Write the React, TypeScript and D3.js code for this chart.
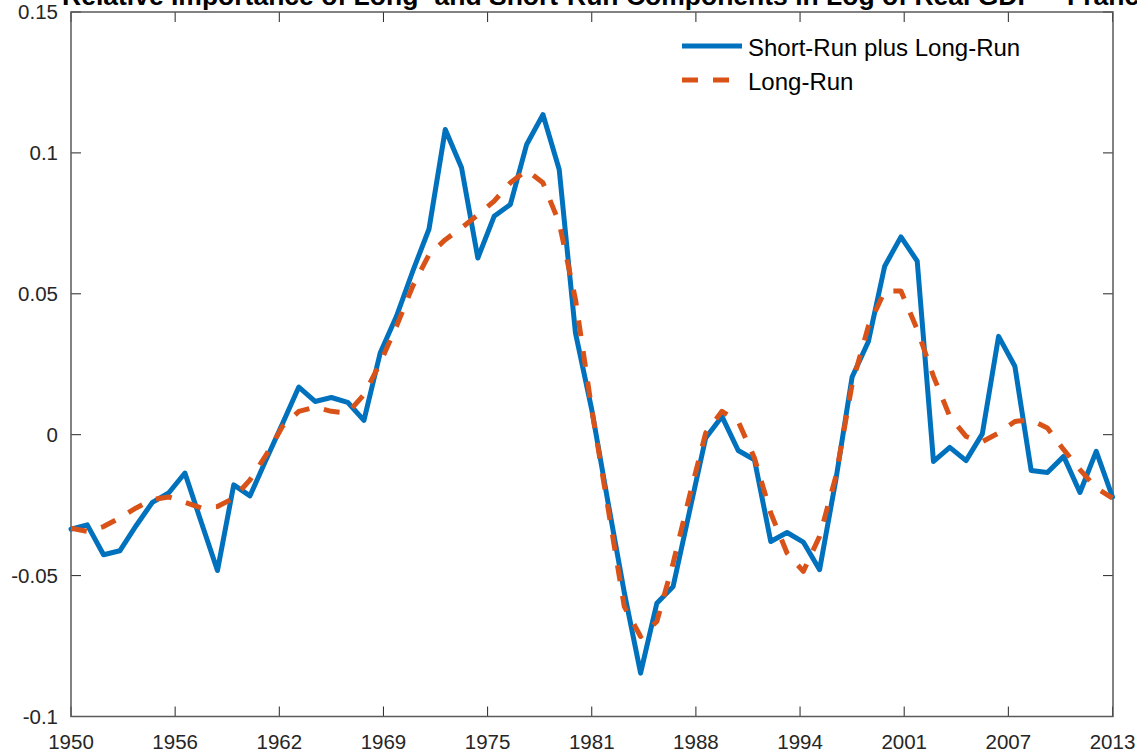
import React from "react";
import * as d3 from "d3";

const TITLE = "Relative Importance of Long- and Short-Run Components in Log of Real GDP -- France";

// 65 evenly spaced observations across the axis (index 0..64)
const shortPlusLong: number[] = [
  -0.0335, -0.032, -0.0426, -0.0412, -0.0323, -0.024, -0.0207, -0.0136, -0.031, -0.0482,
  -0.0178, -0.0217, -0.0087, 0.004, 0.0169, 0.0118, 0.0132, 0.0115, 0.0051, 0.029,
  0.042, 0.058, 0.073, 0.1083, 0.0947, 0.0627, 0.0775, 0.0817, 0.103, 0.1136,
  0.0941, 0.0361, 0.0089, -0.024, -0.056, -0.0846, -0.0598, -0.0539, -0.0274, -0.0012,
  0.0065, -0.0056, -0.0089, -0.0379, -0.0347, -0.0381, -0.0479, -0.016, 0.0205, 0.0331,
  0.0598, 0.0702, 0.0616, -0.0095, -0.0045, -0.0092, 0.0003, 0.0349, 0.0243, -0.0127,
  -0.0134, -0.0077, -0.0205, -0.0059, -0.0221,
];

const longRun: number[] = [
  -0.0332, -0.0343, -0.0326, -0.0295, -0.026, -0.023, -0.0221, -0.024, -0.026, -0.0255,
  -0.0225, -0.016, -0.0071, 0.003, 0.0083, 0.0098, 0.0083, 0.0077, 0.0142, 0.0255,
  0.0385, 0.0527, 0.0639, 0.0692, 0.0734, 0.078, 0.0829, 0.0894, 0.0939, 0.0894,
  0.0752, 0.048, 0.009, -0.026, -0.061, -0.0716, -0.0663, -0.0456, -0.022, 0.0006,
  0.0083, 0.0047, -0.0083, -0.0278, -0.042, -0.0485, -0.0361, -0.0148, 0.018, 0.0385,
  0.0509, 0.051, 0.0373, 0.0207, 0.0065, -0.0006, -0.0025, 0.0006, 0.0047, 0.0053,
  0.0024, -0.0053, -0.0124, -0.0189, -0.0225,
];

const xTickLabels = ["1950", "1956", "1962", "1969", "1975", "1981", "1988", "1994", "2001", "2007", "2013"];
const yTicks = [-0.1, -0.05, 0, 0.05, 0.1, 0.15];
const yTickLabels = ["-0.1", "-0.05", "0", "0.05", "0.1", "0.15"];
const legendLabels = ["Short-Run plus Long-Run", "Long-Run"];

const W = 1137;
const H = 754;
const L = 71;
const R = 1113;
const T = 12;
const B = 716.5;

const BLUE = "#0072BD";
const ORANGE = "#D95319";
const FONT = "'Liberation Sans', Arial, Helvetica, sans-serif";

export default function App() {
  const n = shortPlusLong.length;
  const x = d3.scaleLinear().domain([0, n - 1]).range([L, R - 0.5]);
  const y = d3.scaleLinear().domain([-0.1, 0.15]).range([B, T]);
  const xTickPos = xTickLabels.map((_, i) => ((n - 1) * i) / (xTickLabels.length - 1));

  const line = d3
    .line<number>()
    .x((_, i) => x(i))
    .y((d) => y(d));

  const tickLen = 10;
  const axisColor = "#5a5a5a";
  const tickColor = "#262626";

  return (
    <svg
      width={W}
      height={H}
      style={{ position: "absolute", left: 0, top: 0, background: "#fff" }}
      fontFamily={FONT}
    >
      <rect x={0} y={0} width={W} height={H} fill="#fff" />
      <text x={62} y={5} fontSize={26.5} fontWeight="bold" fill="#000">
        {TITLE}
      </text>

      {/* ticks */}
      {xTickPos.map((p, i) => (
        <g key={"xt" + i}>
          <line x1={x(p)} x2={x(p)} y1={B} y2={B - tickLen} stroke={tickColor} strokeWidth={1} />
          <line x1={x(p)} x2={x(p)} y1={T} y2={T + tickLen} stroke={tickColor} strokeWidth={1} />
          <text x={x(p)} y={749} fontSize={20.5} textAnchor="middle" fill="#262626">
            {xTickLabels[i]}
          </text>
        </g>
      ))}
      {yTicks.map((v, i) => (
        <g key={"yt" + i}>
          <line x1={L} x2={L + tickLen} y1={y(v)} y2={y(v)} stroke={tickColor} strokeWidth={1} />
          <line x1={R} x2={R - tickLen} y1={y(v)} y2={y(v)} stroke={tickColor} strokeWidth={1} />
          <text x={58} y={y(v)} dy="0.36em" fontSize={20.5} textAnchor="end" fill="#262626">
            {yTickLabels[i]}
          </text>
        </g>
      ))}

      {/* axes box */}
      <rect x={L} y={T} width={R - L} height={B - T} fill="none" stroke={axisColor} strokeWidth={1.5} />

      {/* series */}
      <path
        d={line(shortPlusLong) || ""}
        fill="none"
        stroke={BLUE}
        strokeWidth={5}
        strokeLinejoin="round"
        strokeLinecap="round"
      />
      <path
        d={line(longRun) || ""}
        fill="none"
        stroke={ORANGE}
        strokeWidth={5}
        strokeDasharray="16 15"
        strokeLinejoin="round"
      />

      {/* legend */}
      <line x1={682} x2={742} y1={46} y2={46} stroke={BLUE} strokeWidth={5} />
      <text x={748} y={55.5} fontSize={24} fill="#000">
        {legendLabels[0]}
      </text>
      <line x1={682} x2={742} y1={80} y2={80} stroke={ORANGE} strokeWidth={5} strokeDasharray="16 15" />
      <text x={748} y={89.5} fontSize={24} fill="#000">
        {legendLabels[1]}
      </text>
    </svg>
  );
}
